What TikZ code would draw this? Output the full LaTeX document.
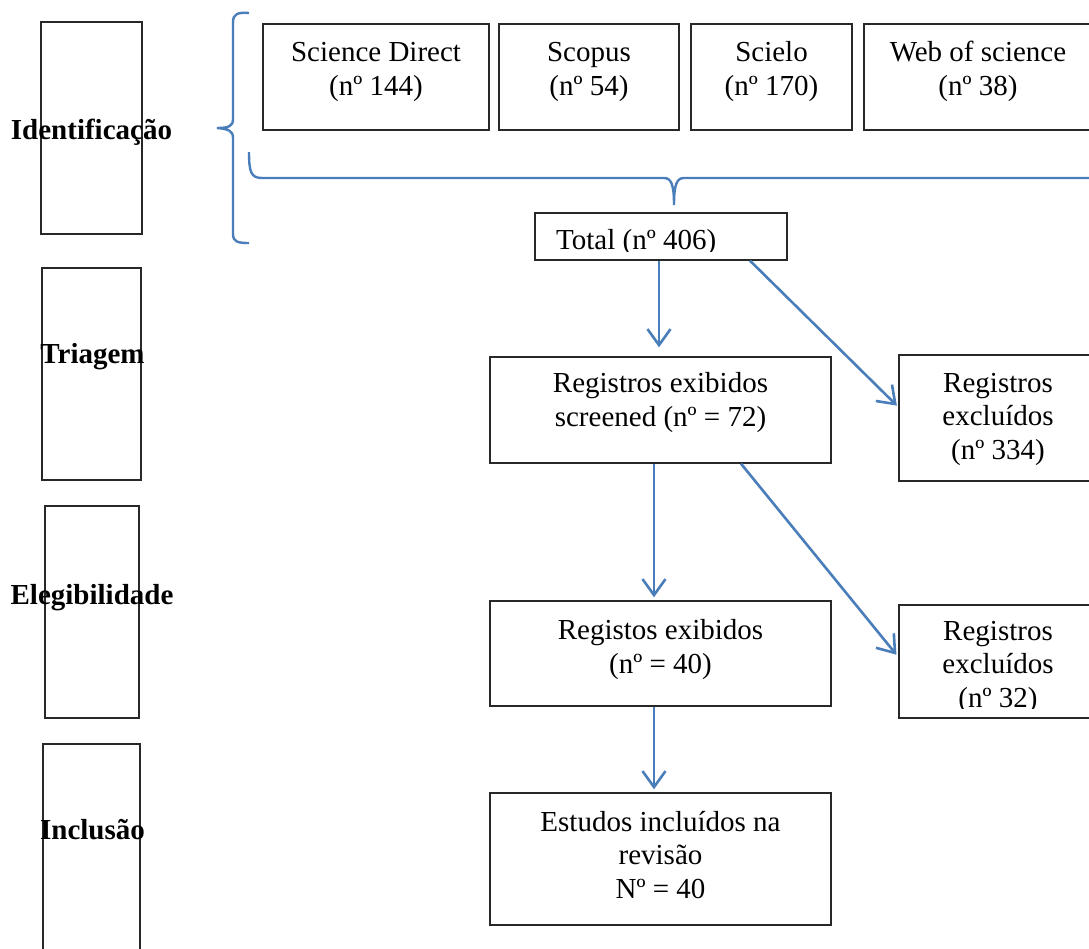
\documentclass[tikz,border=0pt]{standalone}
\usepackage{fontspec}
\setmainfont{Liberation Serif}
\usetikzlibrary{arrows.meta}
\definecolor{wblue}{RGB}{74,126,187}
\definecolor{boxline}{RGB}{40,40,40}
\tikzset{
  box/.style={draw=boxline, line width=1.4pt, inner sep=0pt},
  txt/.style={font=\fontsize{29}{33.5}\selectfont, align=center, inner sep=0pt, anchor=base},
  lab/.style={font=\fontsize{29}{33.5}\selectfont\bfseries, inner sep=0pt, anchor=base},
  brace/.style={draw=wblue, line width=2.4pt},
  arr/.style={draw=wblue, line width=2.6pt, -{Straight Barb[length=16pt,width=23pt]}}
}
\begin{document}
\begin{tikzpicture}[x=1pt,y=-1pt]
\clip (0,0) rectangle (1089,948);
\fill[white] (0,0) rectangle (1089,948);
% stage boxes
\node[box, minimum width=101, minimum height=212] (sid) at (91.5,128) {};
\node[box, minimum width=99, minimum height=212] (str) at (91.5,374) {};
\node[box, minimum width=94, minimum height=212] (sel) at (92,612) {};
\node[box, minimum width=97, minimum height=230] (sin) at (91.5,859) {};
\node[lab] (lid) at (91.5,139) {Identificação};
\node[lab] (ltr) at (92.5,363) {Triagem};
\node[lab] (lel) at (92,604) {Elegibilidade};
\node[lab] (lin) at (92.5,839) {Inclusão};
% braces
\draw[brace] (249,13) .. controls (238,12) and (233,14) .. (233,22) -- (233,119)
  .. controls (233,126) and (229,128) .. (217,128)
  .. controls (229,129) and (233,131) .. (233,138) -- (233,234)
  .. controls (233,242) and (238,243) .. (249,243);
\draw[brace] (249,152) .. controls (249,172) and (251,178) .. (262,178) -- (664,178)
  .. controls (671,178) and (674,184) .. (674,205)
  .. controls (674,184) and (677,178) .. (684,178) -- (1100,178);
% sources
\node[box, minimum width=226, minimum height=106] (sd) at (376,77) {};
\node[box, minimum width=180, minimum height=106] (sc) at (589,77) {};
\node[box, minimum width=161, minimum height=106] (se) at (771.5,77) {};
\node[box, minimum width=228, minimum height=106] (ws) at (978,77) {};
\node[txt] (sdt) at (376,95) {Science Direct\\(nº 144)};
\node[txt] (sct) at (589,95) {Scopus\\(nº 54)};
\node[txt] (set) at (771.5,95) {Scielo\\(nº 170)};
\node[txt] (wst) at (978,95) {Web of science\\(nº 38)};
% total
\node[box, minimum width=252, minimum height=47] (total) at (661,236.5) {};
\begin{scope}
\clip (536,214) rectangle (786,251);
\node[txt, anchor=base west] (tott) at (556,249) {Total (nº 406)};
\end{scope}
% flow boxes
\node[box, minimum width=341, minimum height=106] (reg1) at (660.5,410) {};
\node[txt] (reg1t) at (660.5,426) {Registros exibidos\\screened (nº = 72)};
\node[box, minimum width=198, minimum height=126] (exc1) at (998,418) {};
\node[txt] (exc1t) at (998,459) {Registros\\excluídos\\(nº 334)};
\node[box, minimum width=341, minimum height=105] (reg2) at (660.5,653.5) {};
\node[txt] (reg2t) at (660.5,673) {Registos exibidos\\(nº = 40)};
\node[box, minimum width=198, minimum height=113] (exc2) at (998,661.5) {};
\begin{scope}
\clip (900,606) rectangle (1100,708);
\node[txt] (exc2t) at (998,707) {Registros\\excluídos\\(nº 32)};
\end{scope}
\node[box, minimum width=341, minimum height=132] (inc) at (660.5,859) {};
\node[txt] (inct) at (660.5,898) {Estudos incluídos na\\revisão\\Nº = 40};
% arrows
\draw[arr, shorten >=9pt] ([xshift=-2pt]total.south) -- ([xshift=-2pt]total.south |- reg1.north);
\draw[arr, shorten >=2pt] ([xshift=89pt]total.south) -- ([yshift=11pt]exc1.west);
\draw[arr, shorten >=3pt] ([xshift=-6.5pt]reg1.south) -- ([xshift=-6.5pt]reg1.south |- reg2.north);
\draw[arr, shorten >=3pt] ([xshift=80.5pt]reg1.south) -- ([yshift=4.5pt]exc2.west);
\draw[arr, shorten >=3pt] ([xshift=-6.5pt]reg2.south) -- ([xshift=-6.5pt]reg2.south |- inc.north);
\end{tikzpicture}
\end{document}
